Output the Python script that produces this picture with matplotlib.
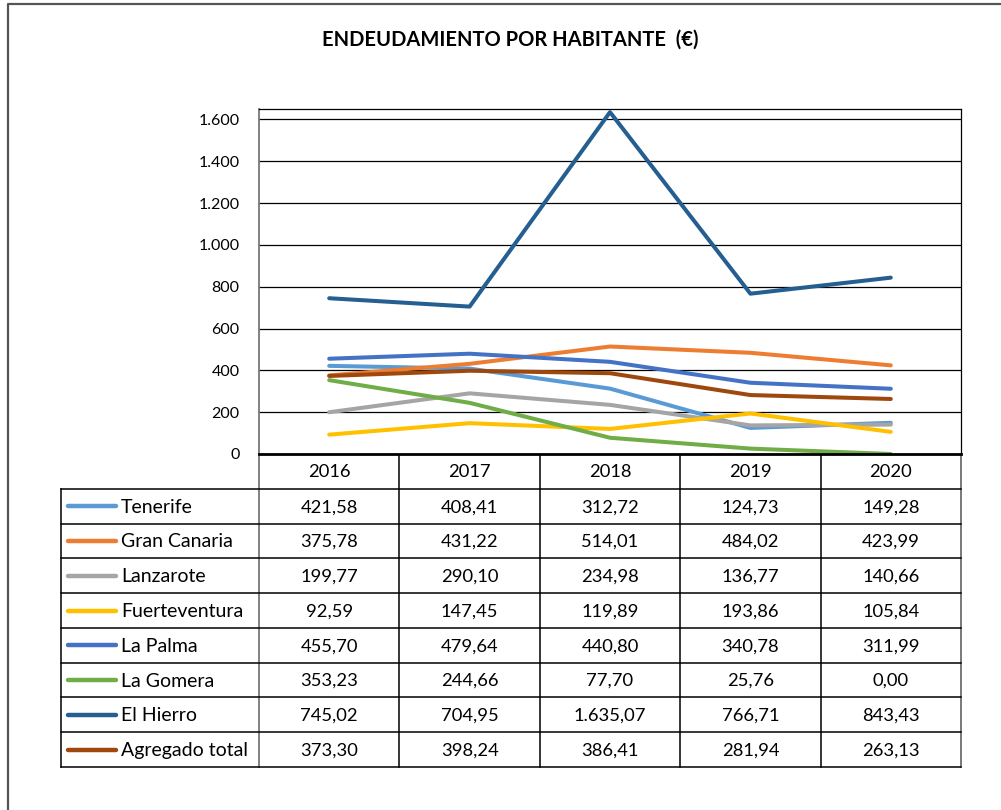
import matplotlib
matplotlib.use("Agg")
import matplotlib.pyplot as plt
from matplotlib.ticker import FuncFormatter

plt.rcParams['font.family'] = ['Lato', 'DejaVu Sans']

years = ['2016', '2017', '2018', '2019', '2020']
series_names = ['Tenerife', 'Gran Canaria', 'Lanzarote', 'Fuerteventura',
                'La Palma', 'La Gomera', 'El Hierro', 'Agregado total']
tenerife = [421.58, 408.41, 312.72, 124.73, 149.28]
gran_canaria = [375.78, 431.22, 514.01, 484.02, 423.99]
lanzarote = [199.77, 290.10, 234.98, 136.77, 140.66]
fuerteventura = [92.59, 147.45, 119.89, 193.86, 105.84]
la_palma = [455.70, 479.64, 440.80, 340.78, 311.99]
la_gomera = [353.23, 244.66, 77.70, 25.76, 0.00]
el_hierro = [745.02, 704.95, 1635.07, 766.71, 843.43]
agregado = [373.30, 398.24, 386.41, 281.94, 263.13]
series_values = [tenerife, gran_canaria, lanzarote, fuerteventura,
                 la_palma, la_gomera, el_hierro, agregado]
colors = ['#5B9BD5', '#ED7D31', '#A5A5A5', '#FFC000',
          '#4472C4', '#70AD47', '#255E91', '#9E480E']
y_ticks = [0, 200, 400, 600, 800, 1000, 1200, 1400, 1600]


def es_num(v, dec=2):
    s = f"{v:,.{dec}f}"
    return s.replace(',', 'X').replace('.', ',').replace('X', '.')


W, H = 1001, 810
fig = plt.figure(figsize=(W / 100, H / 100), dpi=100)

# overlay in pixel coords for border, title and data table
ov = fig.add_axes([0, 0, 1, 1])
ov.set_xlim(0, W)
ov.set_ylim(H, 0)
ov.axis('off')
ov.plot([8, 8, W + 5], [H + 5, 4, 4], color='#555555', lw=1.6)

ov.text(510, 40, 'ENDEUDAMIENTO POR HABITANTE  (€)', ha='center', va='center',
        fontsize=14.5, fontweight='bold')

# plot area geometry (pixels)
px0, px1, py0, py1 = 259, 961, 109, 454
ax = fig.add_axes([px0 / W, 1 - py1 / H, (px1 - px0) / W, (py1 - py0) / H])
n = len(years)
xs = [i + 0.5 for i in range(n)]
for vals, c in zip(series_values, colors):
    ax.plot(xs, vals, color=c, lw=2.9, solid_capstyle='round', solid_joinstyle='round', zorder=3)
ax.set_xlim(0, n)
ax.set_ylim(0, 1650)
ax.set_yticks(y_ticks)
ax.yaxis.set_major_formatter(FuncFormatter(lambda v, p: es_num(v, 0)))
ax.tick_params(axis='y', length=0, pad=14, labelsize=11.5)
ax.set_xticks([])
ax.grid(axis='y', color='black', lw=0.9, zorder=1)
for s in ['top', 'right']:
    ax.spines[s].set_color('black')
    ax.spines[s].set_linewidth(0.9)
ax.spines['left'].set_color('#777777')
ax.spines['left'].set_linewidth(1.3)
ax.spines['bottom'].set_color('black')
ax.spines['bottom'].set_linewidth(2.0)
ax.spines['bottom'].set_zorder(4)

# data table
tx0 = 61
row_h = (767 - py1) / (len(series_names) + 1)
col_w = (px1 - px0) / n
line_kw = dict(color='black', lw=1.1)
# vertical lines
ov.plot([tx0, tx0], [py1 + row_h, 767], **line_kw)
ov.plot([px0, px0], [py1, 767], color='#777777', lw=1.3)
for j in range(1, n + 1):
    xx = px0 + j * col_w
    ov.plot([xx, xx], [py1, 767], color='#555555' if j == n else 'black', lw=1.1)
# horizontal lines
for r in range(1, len(series_names) + 2):
    yy = py1 + r * row_h
    ov.plot([tx0, px1], [yy, yy], **line_kw)

for j, yr in enumerate(years):
    ov.text(px0 + (j + 0.5) * col_w, py1 + 0.5 * row_h + 1, yr,
            ha='center', va='center', fontsize=13.2)
for r, (name, vals, c) in enumerate(zip(series_names, series_values, colors)):
    yc = py1 + (r + 1.5) * row_h
    ov.plot([68, 116], [yc, yc], color=c, lw=3.2, solid_capstyle='round')
    ov.text(121, yc + 1, name, ha='left', va='center', fontsize=14)
    for j, v in enumerate(vals):
        ov.text(px0 + (j + 0.5) * col_w, yc + 1, es_num(v), ha='center', va='center', fontsize=13.2)

fig.savefig('out.png', dpi=100)
